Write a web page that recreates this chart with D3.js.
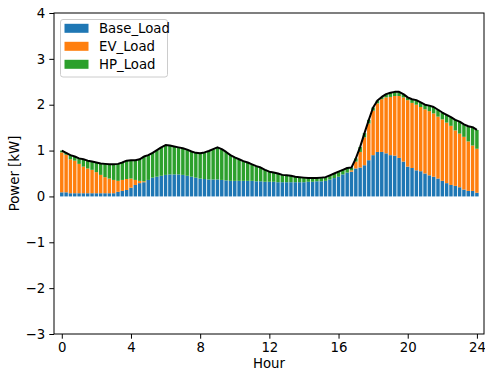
<!DOCTYPE html>
<html>
<head>
<meta charset="utf-8">
<script src="https://cdn.jsdelivr.net/npm/d3@7"></script>
<style>
  html, body { margin: 0; padding: 0; background: #fff; }
  #chart { width: 485px; height: 371px; }
</style>
</head>
<body>
<div id="chart"></div>
<script>
// Data, one value per 15 min slot (0h .. 24h)
const hours = [
  0, 0.25, 0.5, 0.75, 1, 1.25, 1.5, 1.75, 2, 2.25, 2.5, 2.75,
  3, 3.25, 3.5, 3.75, 4, 4.25, 4.5, 4.75, 5, 5.25, 5.5, 5.75,
  6, 6.25, 6.5, 6.75, 7, 7.25, 7.5, 7.75, 8, 8.25, 8.5, 8.75,
  9, 9.25, 9.5, 9.75, 10, 10.25, 10.5, 10.75, 11, 11.25, 11.5, 11.75,
  12, 12.25, 12.5, 12.75, 13, 13.25, 13.5, 13.75, 14, 14.25, 14.5, 14.75,
  15, 15.25, 15.5, 15.75, 16, 16.25, 16.5, 16.75, 17, 17.25, 17.5, 17.75,
  18, 18.25, 18.5, 18.75, 19, 19.25, 19.5, 19.75, 20, 20.25, 20.5, 20.75,
  21, 21.25, 21.5, 21.75, 22, 22.25, 22.5, 22.75, 23, 23.25, 23.5, 23.75,
  24
];

const baseLoad = [
  0.09, 0.09, 0.07, 0.07, 0.07, 0.07, 0.07, 0.07, 0.07, 0.07, 0.07, 0.07,
  0.07, 0.10, 0.12, 0.14, 0.19, 0.25, 0.29, 0.31, 0.36, 0.41, 0.43, 0.45,
  0.47, 0.48, 0.48, 0.48, 0.47, 0.45, 0.43, 0.41, 0.39, 0.38, 0.37, 0.37,
  0.37, 0.36, 0.35, 0.34, 0.34, 0.34, 0.34, 0.34, 0.34, 0.33, 0.33, 0.32,
  0.32, 0.32, 0.31, 0.31, 0.31, 0.31, 0.31, 0.31, 0.31, 0.32, 0.32, 0.33,
  0.33, 0.34, 0.37, 0.40, 0.43, 0.48, 0.52, 0.54, 0.61, 0.63, 0.68, 0.79,
  0.90, 0.97, 0.97, 0.94, 0.90, 0.89, 0.84, 0.76, 0.65, 0.62, 0.57, 0.55,
  0.50, 0.46, 0.43, 0.39, 0.34, 0.29, 0.25, 0.23, 0.20, 0.15, 0.12, 0.12,
  0.08
];

const evLoad = [
  0.87, 0.82, 0.74, 0.71, 0.64, 0.58, 0.54, 0.51, 0.46, 0.40, 0.35, 0.32,
  0.29, 0.24, 0.24, 0.24, 0.20, 0.11, 0.05, 0.02, 0, 0, 0, 0,
  0, 0, 0, 0, 0, 0, 0, 0, 0, 0, 0, 0,
  0, 0, 0, 0, 0, 0, 0, 0, 0, 0, 0, 0,
  0, 0, 0, 0, 0, 0, 0, 0, 0, 0, 0, 0,
  0, 0, 0, 0, 0, 0, 0, 0.03, 0.15, 0.34, 0.61, 0.80,
  0.97, 1.06, 1.15, 1.22, 1.27, 1.30, 1.35, 1.40, 1.45, 1.42, 1.43, 1.40,
  1.40, 1.40, 1.38, 1.35, 1.34, 1.32, 1.29, 1.21, 1.17, 1.15, 1.08, 0.99,
  0.96
];

const hpLoad = [
  0.04, 0.04, 0.09, 0.09, 0.12, 0.16, 0.17, 0.18, 0.21, 0.25, 0.29, 0.31,
  0.34, 0.37, 0.38, 0.40, 0.40, 0.43, 0.47, 0.54, 0.54, 0.54, 0.58, 0.62,
  0.65, 0.63, 0.61, 0.59, 0.58, 0.57, 0.55, 0.54, 0.55, 0.58, 0.62, 0.66,
  0.70, 0.67, 0.62, 0.56, 0.51, 0.47, 0.43, 0.40, 0.36, 0.33, 0.30, 0.26,
  0.22, 0.20, 0.19, 0.16, 0.15, 0.14, 0.12, 0.11, 0.10, 0.08, 0.08, 0.07,
  0.08, 0.08, 0.09, 0.10, 0.11, 0.10, 0.10, 0.06, 0.07, 0.11, 0.09, 0.08,
  0.07, 0.06, 0.05, 0.07, 0.09, 0.09, 0.09, 0.07, 0.06, 0.08, 0.10, 0.10,
  0.10, 0.12, 0.14, 0.15, 0.15, 0.17, 0.19, 0.23, 0.26, 0.27, 0.33, 0.40,
  0.41
];

const seriesNames = ["Base_Load", "EV_Load", "HP_Load"];
const seriesColors = ["#1f77b4", "#ff7f0e", "#2ca02c"];
const xTicks = [0, 4, 8, 12, 16, 20, 24];
const yTicks = [-3, -2, -1, 0, 1, 2, 3, 4];

function drawChart() {
    // plot area in pixels (matches the reference frame)
    const plot = {left: 54, right: 484, top: 13, bottom: 334};
    const fontFamily = "'DejaVu Sans', sans-serif";
    const fontSize = 13.3;

    const svg = d3.select("#chart")
        .append("svg")
        .attr("width", 485)
        .attr("height", 371)
        .style("font-family", fontFamily);

    // rows for d3.stack
    const table = hours.map((h, i) => ({
        hour: h,
        Base_Load: baseLoad[i],
        EV_Load: evLoad[i],
        HP_Load: hpLoad[i]
    }));

    const stacked = d3.stack().keys(seriesNames)(table);

    const x = d3.scaleLinear()
        .domain([-0.45, 24.41])
        .range([plot.left, plot.right]);

    const y = d3.scaleLinear()
        .domain([-3, 4])
        .range([plot.bottom, plot.top]);

    const barWidth = x(0.2) - x(0);
    const color = d3.scaleOrdinal().domain(seriesNames).range(seriesColors);

    // Stacked bars
    svg.append("g")
        .attr("class", "bars")
        .selectAll("g")
        .data(stacked)
        .join("g")
        .attr("fill", d => color(d.key))
        .selectAll("rect")
        .data(d => d)
        .join("rect")
        .attr("x", d => x(d.data.hour) - barWidth / 2)
        .attr("width", barWidth)
        .attr("y", d => y(d[1]))
        .attr("height", d => Math.max(0, y(d[0]) - y(d[1])));

    // Total line on top of the stack
    const top = stacked[stacked.length - 1];
    const line = d3.line()
        .x(d => x(d.data.hour))
        .y(d => y(d[1]));

    svg.append("path")
        .datum(top)
        .attr("fill", "none")
        .attr("stroke", "#000")
        .attr("stroke-width", 2)
        .attr("stroke-linejoin", "round")
        .attr("d", line);

    // Axes
    const xAxis = svg.append("g")
        .attr("transform", `translate(0,${plot.bottom})`)
        .call(d3.axisBottom(x).tickValues(xTicks).tickFormat(d3.format("d"))
            .tickSizeInner(4.7).tickSizeOuter(0).tickPadding(4.2));

    const yAxis = svg.append("g")
        .attr("transform", `translate(${plot.left},0)`)
        .call(d3.axisLeft(y).tickValues(yTicks).tickFormat(d3.format("d"))
            .tickSizeInner(4.7).tickSizeOuter(0).tickPadding(4.2));

    svg.selectAll(".domain").remove();
    svg.selectAll(".tick line").attr("stroke", "#000").attr("stroke-width", 1);
    svg.selectAll(".tick text")
        .attr("fill", "#000")
        .style("font-family", fontFamily)
        .style("font-size", fontSize + "px");

    // Frame (spines)
    svg.append("rect")
        .attr("x", plot.left)
        .attr("y", plot.top)
        .attr("width", plot.right - plot.left)
        .attr("height", plot.bottom - plot.top)
        .attr("fill", "none")
        .attr("stroke", "#000")
        .attr("stroke-width", 1);

    // Axis labels
    svg.append("text")
        .attr("x", (plot.left + plot.right) / 2)
        .attr("y", 368)
        .attr("text-anchor", "middle")
        .style("font-size", fontSize + "px")
        .text("Hour");

    svg.append("text")
        .attr("transform", `translate(18.5,${(plot.top + plot.bottom) / 2}) rotate(-90)`)
        .attr("text-anchor", "middle")
        .style("font-size", fontSize + "px")
        .text("Power [kW]");

    // Legend
    const legend = svg.append("g").attr("class", "legend");
    legend.append("rect")
        .attr("x", 60.5)
        .attr("y", 19.5)
        .attr("width", 107)
        .attr("height", 57.5)
        .attr("rx", 2.5)
        .attr("fill", "#fff")
        .attr("fill-opacity", 0.8)
        .attr("stroke", "#cccccc")
        .attr("stroke-width", 1);

    const rows = legend.selectAll("g.item")
        .data(seriesNames)
        .join("g")
        .attr("class", "item")
        .attr("transform", (d, i) => `translate(0,${28.3 + i * 18})`);

    rows.append("rect")
        .attr("x", 64.5)
        .attr("y", -4.5)
        .attr("width", 24)
        .attr("height", 9)
        .attr("fill", d => color(d));

    rows.append("text")
        .attr("x", 99)
        .attr("y", 4.8)
        .style("font-size", fontSize + "px")
        .attr("fill", "#000")
        .text(d => d);
}

drawChart();
</script>
</body>
</html>
